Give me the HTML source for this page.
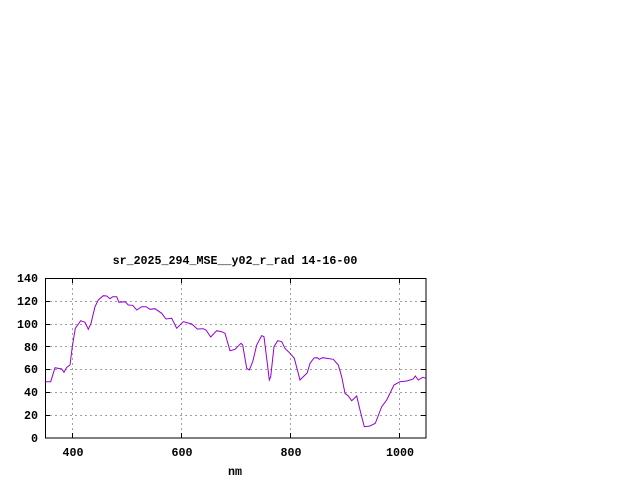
<!DOCTYPE html>
<html><head><style>
body{margin:0;background:#fff;}
svg{display:block;}
text{font-family:"Liberation Mono",monospace;font-size:11.67px;font-weight:bold;fill:#000;}
</style></head><body>
<svg width="640" height="480" xmlns="http://www.w3.org/2000/svg">
<g stroke="#a0a0a0" stroke-dasharray="2,3" stroke-width="1">
<line x1="45" y1="415.5" x2="426" y2="415.5"/>
<line x1="45" y1="392.5" x2="426" y2="392.5"/>
<line x1="45" y1="369.5" x2="426" y2="369.5"/>
<line x1="45" y1="346.5" x2="426" y2="346.5"/>
<line x1="45" y1="324.5" x2="426" y2="324.5"/>
<line x1="45" y1="301.5" x2="426" y2="301.5"/>
<line x1="72.5" y1="278" x2="72.5" y2="438"/>
<line x1="181.5" y1="278" x2="181.5" y2="438"/>
<line x1="290.5" y1="278" x2="290.5" y2="438"/>
<line x1="399.5" y1="278" x2="399.5" y2="438"/>
</g>
<g stroke="#000" stroke-width="1">
<line x1="45" y1="415.5" x2="50" y2="415.5"/><line x1="421" y1="415.5" x2="426" y2="415.5"/>
<line x1="45" y1="392.5" x2="50" y2="392.5"/><line x1="421" y1="392.5" x2="426" y2="392.5"/>
<line x1="45" y1="369.5" x2="50" y2="369.5"/><line x1="421" y1="369.5" x2="426" y2="369.5"/>
<line x1="45" y1="346.5" x2="50" y2="346.5"/><line x1="421" y1="346.5" x2="426" y2="346.5"/>
<line x1="45" y1="324.5" x2="50" y2="324.5"/><line x1="421" y1="324.5" x2="426" y2="324.5"/>
<line x1="45" y1="301.5" x2="50" y2="301.5"/><line x1="421" y1="301.5" x2="426" y2="301.5"/>
<line x1="72.5" y1="278" x2="72.5" y2="283"/><line x1="72.5" y1="433" x2="72.5" y2="438"/>
<line x1="181.5" y1="278" x2="181.5" y2="283"/><line x1="181.5" y1="433" x2="181.5" y2="438"/>
<line x1="290.5" y1="278" x2="290.5" y2="283"/><line x1="290.5" y1="433" x2="290.5" y2="438"/>
<line x1="399.5" y1="278" x2="399.5" y2="283"/><line x1="399.5" y1="433" x2="399.5" y2="438"/>
</g>
<rect x="45.5" y="278.5" width="380.5" height="159.5" fill="none" stroke="#000" stroke-width="1"/>
<polyline fill="none" stroke="#9400d3" stroke-width="1" points="45.3,381.7 50.7,381.7 55,367.7 61.7,369 64,372.3 66.7,367.3 70,365 72.3,346.7 75.3,328.3 80.7,320.7 85,322.3 88.3,329.3 91,323.3 95,306.7 98.3,300 103.3,295.7 106.7,296 110,298.7 112.7,296.7 116.7,296.7 119,302.3 125,301.7 128.3,305 132.7,305.3 136.7,310 141.7,306.7 146,306.7 150,309.3 155,308.7 161.7,313.3 166,319 171.7,318.3 176.7,328.3 183.3,321.7 191.7,324 197.3,329 203.3,328.7 206,330 210.7,337 216.7,330.7 221.7,331.7 225,333.3 230,350.7 235,349.3 241,343.3 242.7,345 246.7,368.3 249.3,370 252.7,361.7 256.7,345 261.7,335.7 264,336.7 267.3,363.3 269.3,380 270.7,376.7 274,346.7 277.7,340.7 281.7,341.7 285,348.3 290,353.3 294.3,358.3 300,380 307.3,372.7 310,363.3 314,358 317.3,357.7 319.3,359.3 322.7,357.7 333.3,359.3 338.3,365 341.7,376.7 345,393.3 348.3,396 351.7,400.7 356.7,396 360,410 364.3,426.7 370,426 375.3,423.3 381.7,406.7 386.7,400 394,385 400,381.7 406.7,381 413.3,379 415.3,376 418.3,380 422.7,377.3 426,378.3"/>
<g text-anchor="end">
<text x="38" y="442">0</text>
<text x="38" y="419">20</text>
<text x="38" y="396">40</text>
<text x="38" y="373">60</text>
<text x="38" y="351">80</text>
<text x="38" y="328">100</text>
<text x="38" y="305">120</text>
<text x="38" y="282">140</text>
</g>
<g text-anchor="middle">
<text x="73" y="456">400</text>
<text x="182" y="456">600</text>
<text x="291" y="456">800</text>
<text x="400" y="456">1000</text>
<text x="235" y="475">nm</text>
<text x="235" y="264">sr_2025_294_MSE__y02_r_rad 14-16-00</text>
</g>
</svg>
</body></html>
